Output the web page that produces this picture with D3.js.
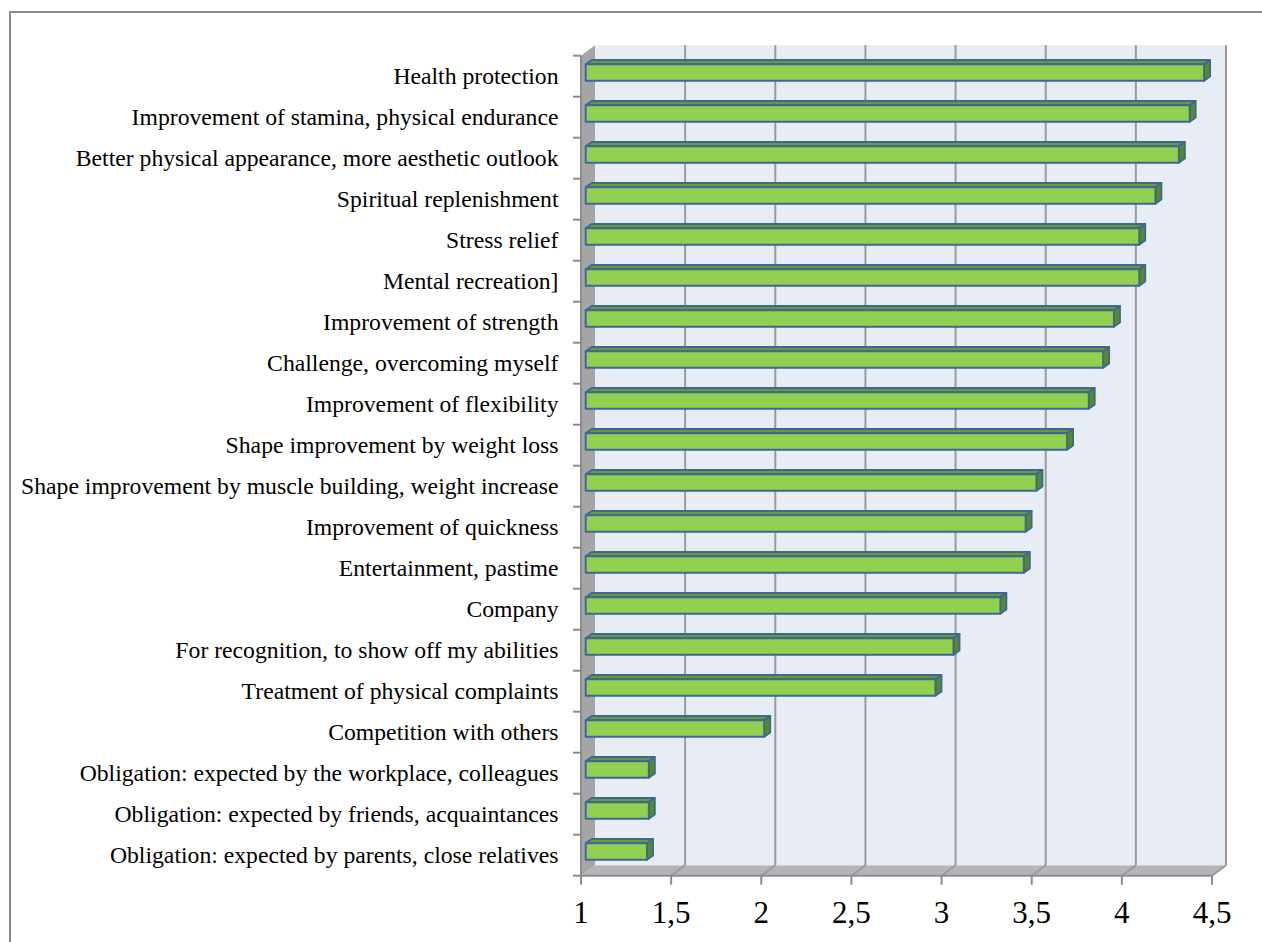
<!DOCTYPE html>
<html>
<head>
<meta charset="utf-8">
<script src="https://cdn.jsdelivr.net/npm/d3@7/dist/d3.min.js"></script>
<style>
  html, body { margin: 0; padding: 0; background: #ffffff; }
  svg { display: block; }
</style>
</head>
<body>
<svg id="chart" width="1262" height="942"></svg>
<script>
const categories = [
  "Health protection",
  "Improvement of stamina, physical endurance",
  "Better physical appearance, more aesthetic outlook",
  "Spiritual replenishment",
  "Stress relief",
  "Mental recreation]",
  "Improvement of strength",
  "Challenge, overcoming myself",
  "Improvement of flexibility",
  "Shape improvement by weight loss",
  "Shape improvement by muscle building, weight increase",
  "Improvement of quickness",
  "Entertainment, pastime",
  "Company",
  "For recognition, to show off my abilities",
  "Treatment of physical complaints",
  "Competition with others",
  "Obligation: expected by the workplace, colleagues",
  "Obligation: expected by friends, acquaintances",
  "Obligation: expected by parents, close relatives"
];
const values = [4.43, 4.35, 4.29, 4.16, 4.07, 4.07, 3.93, 3.87, 3.79, 3.67,
                3.50, 3.44, 3.43, 3.30, 3.04, 2.94, 1.99, 1.35, 1.35, 1.34];
const tickValues = [1, 1.5, 2, 2.5, 3, 3.5, 4, 4.5];
const tickLabels = ["1", "1,5", "2", "2,5", "3", "3,5", "4", "4,5"];

(function () {
const svg = d3.select("#chart");

// outer border (only top and left visible)
svg.append("rect").attr("x", 10).attr("y", 12).attr("width", 1300).attr("height", 1000)
  .attr("fill", "none").attr("stroke", "#8c8c8c").attr("stroke-width", 2);

// geometry
const pLeft = 581, pRight = 1212, pTop = 55.7, pBottom = 875.7;
const DX = 14, DY = -10.5;          // wall depth
const BDX = 6, BDY = -4.3;          // bar depth
const BAR_SHIFT = 4.7;              // bar front face offset into depth
const x = d3.scaleLinear().domain([1, 4.5]).range([pLeft, pRight]);
const y = d3.scaleBand().domain(categories).range([pTop, pBottom]).paddingInner(0).paddingOuter(0);
const data = categories.map((c, i) => ({ c, v: values[i] }));

const poly = pts => pts.map(p => p.join(",")).join(" ");

// side (left) wall
svg.append("polygon")
  .attr("points", poly([[pLeft, pTop], [pLeft + DX, pTop + DY], [pLeft + DX, pBottom + DY], [pLeft, pBottom]]))
  .attr("fill", "#a5a5a8");
// floor
svg.append("polygon")
  .attr("points", poly([[pLeft, pBottom], [pLeft + DX, pBottom + DY], [pRight + DX, pBottom + DY], [pRight, pBottom]]))
  .attr("fill", "#b4b5b8");
// back wall
svg.append("rect")
  .attr("x", pLeft + DX).attr("y", pTop + DY)
  .attr("width", pRight - pLeft).attr("height", pBottom - pTop)
  .attr("fill", "#e8ecf5");

// gridlines on back wall and floor
const grid = svg.append("g").attr("stroke", "#9a9a9a").attr("stroke-width", 2).attr("fill", "none");
tickValues.slice(1).forEach(t => {
  grid.append("line")
    .attr("x1", x(t) + DX).attr("x2", x(t) + DX)
    .attr("y1", pTop + DY).attr("y2", pBottom + DY);
  grid.append("line")
    .attr("x1", x(t)).attr("x2", x(t) + DX)
    .attr("y1", pBottom).attr("y2", pBottom + DY);
});

// axis lines
const axes = svg.append("g").attr("stroke", "#8c8c8c").attr("stroke-width", 2).attr("fill", "none");
axes.append("line").attr("x1", pLeft).attr("x2", pLeft).attr("y1", pTop).attr("y2", pBottom);
axes.append("line").attr("x1", pLeft).attr("x2", pRight).attr("y1", pBottom).attr("y2", pBottom);
y.domain().forEach(c => {
  axes.append("line").attr("x1", pLeft - 8).attr("x2", pLeft).attr("y1", y(c)).attr("y2", y(c));
});
axes.append("line").attr("x1", pLeft - 8).attr("x2", pLeft).attr("y1", pBottom).attr("y2", pBottom);
tickValues.forEach(t => {
  axes.append("line").attr("x1", x(t)).attr("x2", x(t)).attr("y1", pBottom).attr("y2", pBottom + 9);
});

// bars
const bw = y.bandwidth();
const barTopOff = 8.6, barH = 16.4;
const bars = svg.append("g");
data.forEach(d => {
  const x0 = x(1) + BAR_SHIFT, x1 = x(d.v) + BAR_SHIFT;
  const yt = y(d.c) + barTopOff, yb = yt + barH;
  const g = bars.append("g").attr("stroke", "#3d6896").attr("stroke-width", 1.9).attr("stroke-linejoin", "round");
  g.append("polygon")
    .attr("points", poly([[x0, yt], [x1, yt], [x1 + BDX, yt + BDY], [x0 + BDX, yt + BDY]]))
    .attr("fill", "#6a9832");
  g.append("polygon")
    .attr("points", poly([[x1, yt], [x1 + BDX, yt + BDY], [x1 + BDX, yb + BDY], [x1, yb]]))
    .attr("fill", "#5c872a");
  g.append("rect")
    .attr("x", x0).attr("y", yt).attr("width", x1 - x0).attr("height", barH)
    .attr("fill", "#92d050");
});

// category labels
svg.append("g").selectAll("text").data(categories).join("text")
  .attr("x", 558.5)
  .attr("y", c => y(c) + bw / 2)
  .attr("dy", "0.33em")
  .attr("text-anchor", "end")
  .attr("font-family", "'Liberation Serif', 'Times New Roman', serif")
  .attr("font-size", 23.7)
  .attr("fill", "#000")
  .text(c => c);

// value tick labels
svg.append("g").selectAll("text").data(tickValues).join("text")
  .attr("x", t => x(t))
  .attr("y", 922.5)
  .attr("text-anchor", "middle")
  .attr("font-family", "'Liberation Serif', 'Times New Roman', serif")
  .attr("font-size", 31)
  .attr("fill", "#000")
  .text((t, i) => tickLabels[i]);
})();
</script>
</body>
</html>
